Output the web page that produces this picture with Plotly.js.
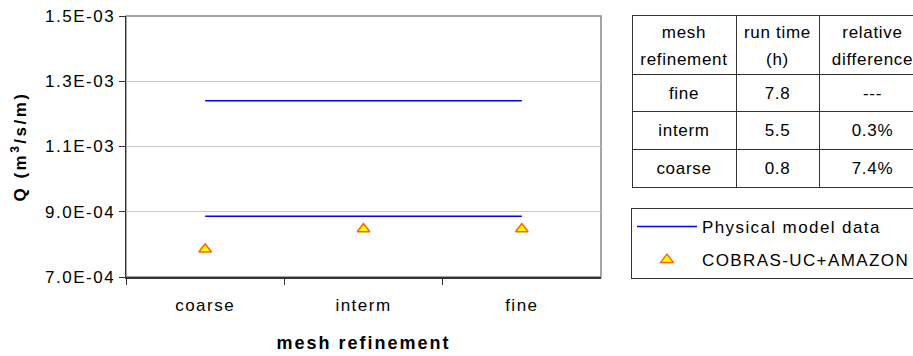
<!DOCTYPE html>
<html>
<head>
<meta charset="utf-8">
<script src="https://cdn.plot.ly/plotly-3.0.1.min.js"></script>
<style>
  html, body { margin: 0; padding: 0; background: #fff; overflow: hidden; width: 913px; height: 356px; }
  #chart { width: 926px; height: 356px; }
  .xtick text, .ytick text { letter-spacing: 1.5px; }
  .legendtext { letter-spacing: 1.4px; }
  .cell-text { letter-spacing: 0.7px; }
  .xtitle { letter-spacing: 2px; }
  .ytitle { letter-spacing: 2.5px; }
</style>
</head>
<body>
<div id="chart"></div>
<script>
// ---- data ----
const categories = ['coarse', 'interm', 'fine'];
const physicalUpper = [1.24e-3, 1.24e-3, 1.24e-3];
const physicalLower = [8.86e-4, 8.86e-4, 8.86e-4];
const cobrasValues = [7.85e-4, 8.47e-4, 8.47e-4];

const yTickValues = [7.0e-4, 9.0e-4, 1.1e-3, 1.3e-3, 1.5e-3];
const yTickLabels = ['7.0E-04', '9.0E-04', '1.1E-03', '1.3E-03', '1.5E-03'];

const tableHeader = ['mesh<br>refinement', 'run time<br>(h)', 'relative<br>difference'];
const tableMesh = ['fine', 'interm', 'coarse'];
const tableRunTime = ['7.8', '5.5', '0.8'];
const tableRelDiff = ['---', '0.3%', '7.4%'];

// ---- layout helpers (pixels) ----
const W = 926, H = 356;
const FONT = 'Liberation Sans, Arial, sans-serif';

const traces = [
  {
    type: 'scatter', mode: 'lines', x: categories, y: physicalUpper,
    name: 'Physical model data', legendgroup: 'a',
    line: { color: '#0000FF', width: 1.6 }, hoverinfo: 'skip'
  },
  {
    type: 'scatter', mode: 'lines', x: categories, y: physicalLower,
    name: 'Physical model data', legendgroup: 'a', showlegend: false,
    line: { color: '#0000FF', width: 1.6 }, hoverinfo: 'skip'
  },
  {
    type: 'scatter', mode: 'markers', x: categories, y: cobrasValues,
    name: 'COBRAS-UC+AMAZON', legendgroup: 'b',
    marker: { symbol: 'triangle-up', size: 11, color: '#FFFF00', line: { color: '#FF6600', width: 1.5 } }
  },
  {
    type: 'table',
    domain: { x: [632 / W, 1], y: [0.3, (H - 15) / H] },
    columnwidth: [104, 83, 107],
    header: {
      values: tableHeader,
      align: 'center', height: 59,
      font: { family: FONT, size: 17, color: '#000' },
      fill: { color: '#fff' },
      line: { color: '#333', width: 1 }
    },
    cells: {
      values: [tableMesh, tableRunTime, tableRelDiff],
      align: 'center', height: 37.7,
      font: { family: FONT, size: 17, color: '#000' },
      fill: { color: '#fff' },
      line: { color: '#333', width: 1 }
    }
  }
];

const layout = {
  width: W, height: H,
  margin: { l: 0, r: 0, t: 0, b: 0 },
  paper_bgcolor: '#fff', plot_bgcolor: '#fff',
  font: { family: FONT, color: '#000', size: 17 },
  showlegend: true,
  legend: {
    x: 631 / W, y: (H - 208) / H, xanchor: 'left', yanchor: 'top',
    bordercolor: '#333', borderwidth: 1, bgcolor: '#fff',
    font: { family: FONT, size: 17, color: '#000' },
    traceorder: 'grouped', tracegroupgap: 8, itemwidth: 60
  },
  xaxis: {
    domain: [126 / W, 601 / W],
    type: 'category', range: [-0.5, 2.5],
    showgrid: false, zeroline: false,
    showline: true, linecolor: '#333', linewidth: 1.5,
    ticks: 'outside', tickson: 'boundaries', ticklen: 6, tickcolor: '#333',
    ticklabelstandoff: 12,
    tickfont: { family: FONT, size: 17, color: '#000' },
    title: { text: '<b>mesh refinement</b>', font: { family: FONT, size: 18, color: '#000' }, standoff: 22 }
  },
  yaxis: {
    domain: [(H - 277) / H, (H - 16) / H],
    range: [7.0e-4, 1.5e-3],
    tickvals: yTickValues, ticktext: yTickLabels,
    showgrid: true, gridcolor: '#C8C8C8', gridwidth: 1,
    zeroline: false,
    showline: true, linecolor: '#333', linewidth: 1.5,
    ticks: 'outside', ticklen: 6, tickcolor: '#333',
    tickfont: { family: FONT, size: 17, color: '#000' },
    title: { text: '<b>Q (m<sup>3</sup>/s/m)</b>', font: { family: FONT, size: 17, color: '#000' }, standoff: 14 }
  },
  shapes: [
    { type: 'rect', xref: 'x domain', yref: 'y domain', x0: 0, x1: 1, y0: 0, y1: 1,
      line: { color: '#888', width: 1.5 }, layer: 'below' }
  ]
};

Plotly.newPlot('chart', traces, layout, { staticPlot: true, displayModeBar: false }).then(function (gd) {
  gd.querySelectorAll('.cell-text').forEach(function (t) {
    const lines = t.querySelectorAll('tspan.line');
    if (lines.length >= 2) {
      // Plotly centres a multi-line table cell as a block; centre each line instead.
      let maxW = 0;
      lines.forEach(function (l) { maxW = Math.max(maxW, l.getComputedTextLength()); });
      t.setAttribute('text-anchor', 'middle');
      lines.forEach(function (l, i) {
        l.setAttribute('x', maxW / 2);
        if (i > 0) l.setAttribute('dy', '1.6em');
      });
    } else {
      // vertically centre single-line body cells in their rows
      const tr = t.getAttribute('transform') || '';
      t.setAttribute('transform', tr + ' translate(0,4)');
    }
  });
});
</script>
</body>
</html>
